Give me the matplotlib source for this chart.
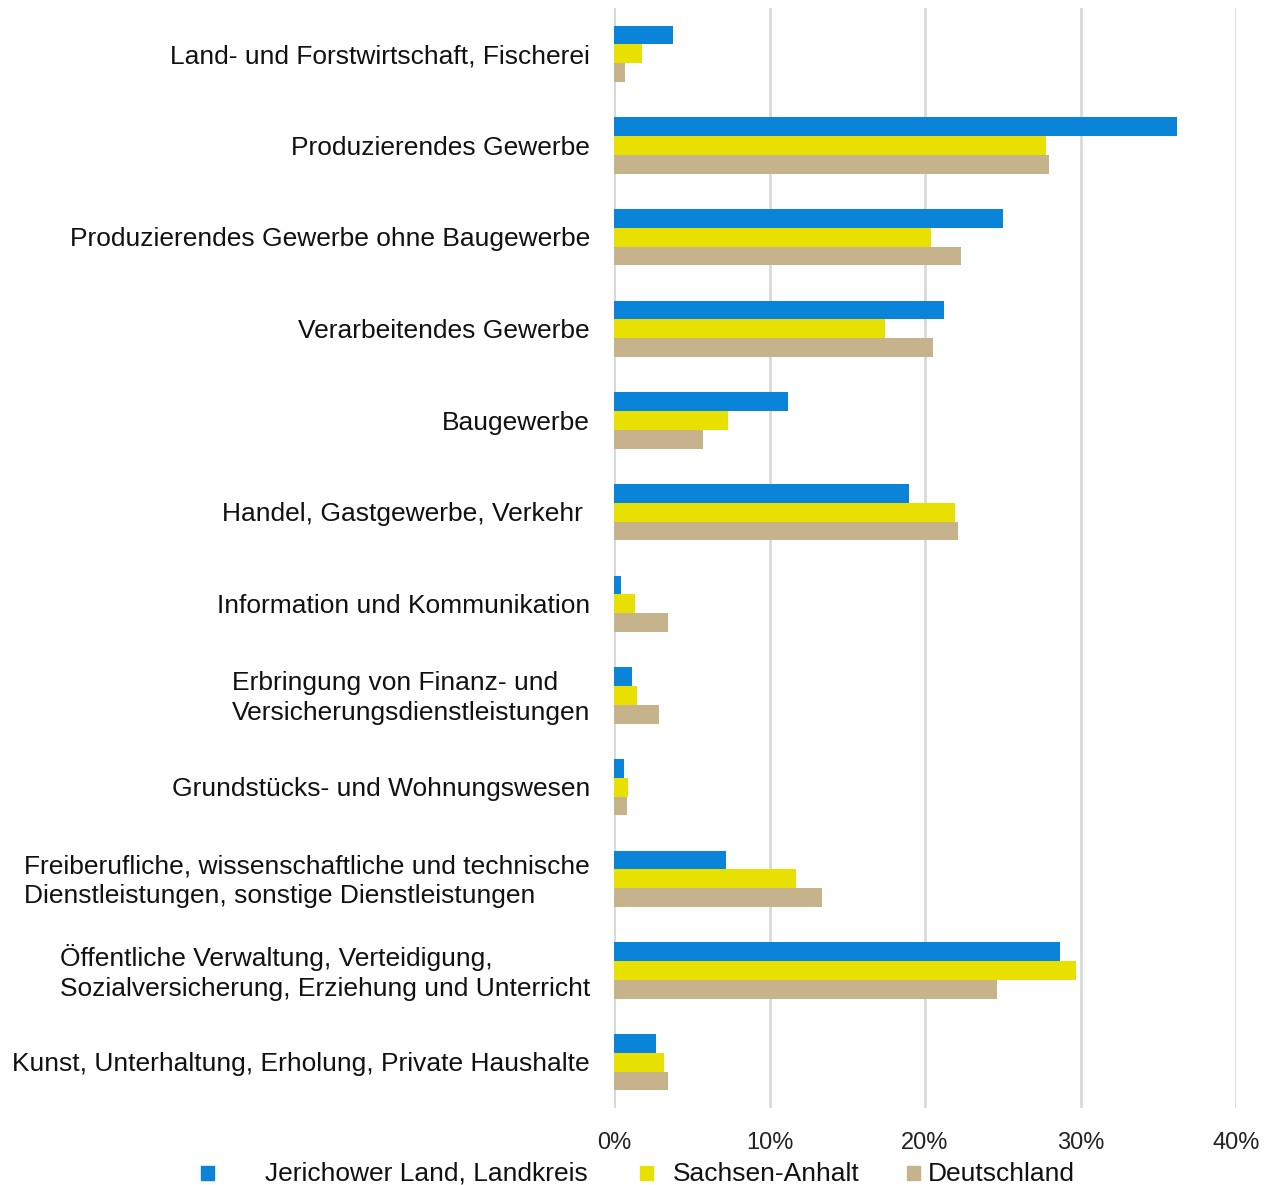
import numpy as np
import matplotlib.pyplot as plt
from matplotlib.patches import Rectangle

plt.rcParams['font.family'] = ['Liberation Sans', 'DejaVu Sans']

categories = [
    "Land- und Forstwirtschaft, Fischerei",
    "Produzierendes Gewerbe",
    "Produzierendes Gewerbe ohne Baugewerbe",
    "Verarbeitendes Gewerbe",
    "Baugewerbe",
    "Handel, Gastgewerbe, Verkehr ",
    "Information und Kommunikation",
    "Erbringung von Finanz- und\nVersicherungsdienstleistungen",
    "Grundstücks- und Wohnungswesen",
    "Freiberufliche, wissenschaftliche und technische\nDienstleistungen, sonstige Dienstleistungen",
    "Öffentliche Verwaltung, Verteidigung,\nSozialversicherung, Erziehung und Unterricht",
    "Kunst, Unterhaltung, Erholung, Private Haushalte",
]

jerichow = [3.8, 36.2, 25.0, 21.2, 11.2, 19.0, 0.43, 1.17, 0.66, 7.2, 28.7, 2.7]
sachsen_anhalt = [1.8, 27.8, 20.4, 17.4, 7.3, 21.9, 1.37, 1.45, 0.9, 11.7, 29.7, 3.2]
deutschland = [0.7, 28.0, 22.3, 20.5, 5.7, 22.1, 3.5, 2.88, 0.85, 13.4, 24.6, 3.5]

series_names = ["Jerichower Land, Landkreis", "Sachsen-Anhalt", "Deutschland"]
colors = ["#0a84d8", "#e8e000", "#c6b28b"]

xticks = [0, 10, 20, 30, 40]

W, H = 1270, 1185
fig = plt.figure(figsize=(W / 100, H / 100), dpi=100)
ax = fig.add_axes([614 / W, 1 - 1108 / H, (1236 - 614) / W, 1100 / H])

y = np.arange(len(categories))
bh = 0.205
for k, (vals, col) in enumerate(zip([jerichow, sachsen_anhalt, deutschland], colors)):
    ax.barh(y + (k - 1) * bh, vals, height=bh, color=col, zorder=3)

ax.set_xlim(0, 40)
ax.set_ylim(len(categories) - 0.5, -0.5)
ax.set_xticks(xticks)
ax.set_xticklabels([f"{t}%" for t in xticks], fontsize=17, color="#222222")
ax.tick_params(axis="x", length=0, pad=17)
ax.set_yticks([])
ax.grid(axis="x", color="#d9d9d9", linewidth=2, zorder=0)
for s in ax.spines.values():
    s.set_visible(False)
ax.axvline(0, color="#d9d9d9", linewidth=2, zorder=1)

# category labels, right-aligned next to the axis
for i, lab in enumerate(categories):
    ax.text(-24 * 40 / 622, i + 0.025, lab, ha="right", va="center",
            multialignment="left", fontsize=19, color="#111111",
            linespacing=1.3)

# legend, placed by hand to match the spacing
leg_items = [(207, 265), (646, 673), (913, 928)]
for (mx, tx), name, col in zip(leg_items, series_names, colors):
    fig.patches.append(Rectangle(((mx - 6) / W, 1 - 1180 / H), 13 / W, 14 / H,
                                 transform=fig.transFigure, color=col,
                                 figure=fig))
    fig.text(tx / W, 1 - 1174 / H, name, ha="left", va="center",
             fontsize=19, color="#111111")

fig.savefig("out.png", dpi=100)
